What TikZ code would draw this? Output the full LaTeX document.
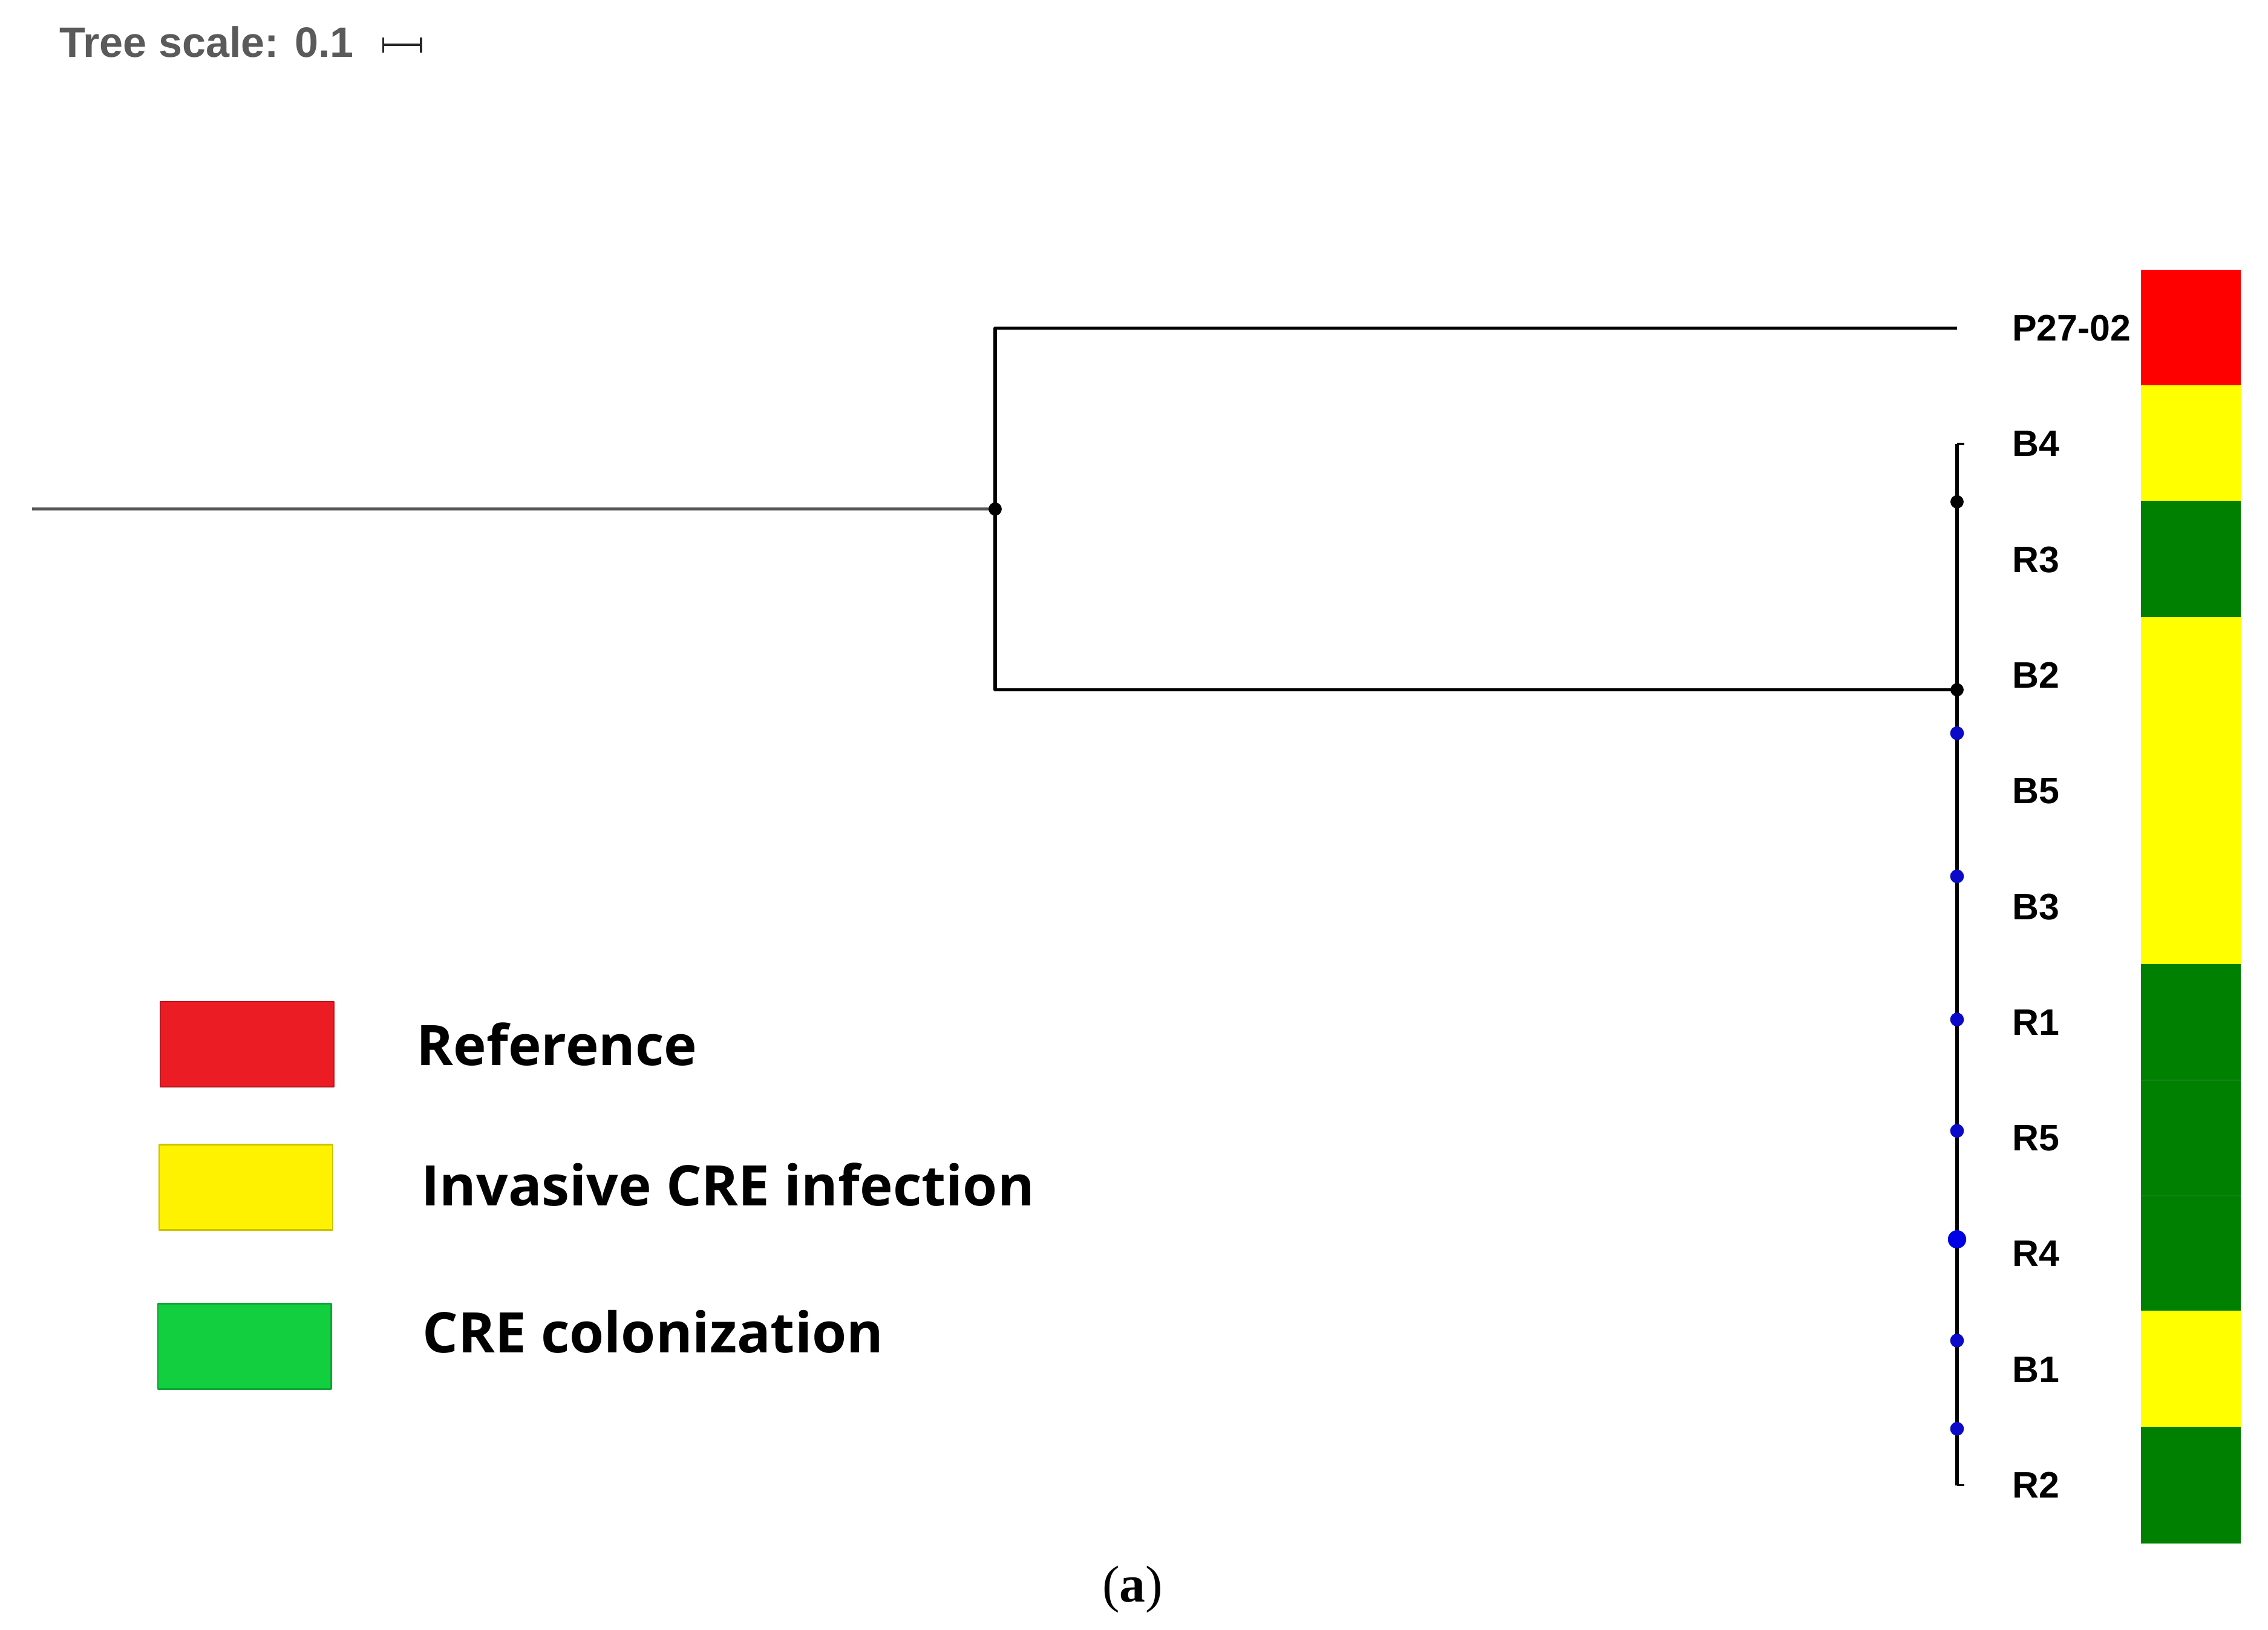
\documentclass[tikz,border=0pt]{standalone}
\usepackage{fontspec}
\setmainfont{Liberation Sans}
\newfontfamily\keyfont{Open Sans}
\newfontfamily\capfont{Liberation Serif}
\usetikzlibrary{positioning}
\definecolor{barred}{HTML}{FF0000}
\definecolor{baryellow}{HTML}{FFFF00}
\definecolor{bargreen}{HTML}{008000}
\definecolor{keyred}{HTML}{EC1C24}
\definecolor{keyyellow}{HTML}{FFF200}
\definecolor{keygreen}{HTML}{12CF40}
\definecolor{dotblue}{HTML}{0A0AC8}
\definecolor{rootgray}{HTML}{555555}
\definecolor{scalegray}{HTML}{5A5A5A}
\begin{document}
\begin{tikzpicture}[x=0.02cm, y=-0.02cm, line join=round, line width=1.3pt]
    \tikzset{leaf/.style={anchor=west, inner sep=0pt, font=\fontsize{14.5}{16}\selectfont\bfseries},
        keybox/.style={minimum width=2.4cm, minimum height=1.18cm, inner sep=0pt, draw=#1!80!black, line width=0.5pt, fill=#1},
        keytext/.style={anchor=west, inner sep=0pt, font=\keyfont\bfseries\fontsize{22}{24}\selectfont}}
    \useasboundingbox (0,0) rectangle (1568,1127);
    % scale
    \node[anchor=west, inner sep=0pt, text=scalegray, font=\fontsize{16.7}{18}\selectfont\bfseries] (scale) at (40,29) {Tree scale: 0.1};
    \coordinate (sbl) at (265,31);
    \coordinate (sbr) at (291,31);
    \draw[line width=0.9pt, black!85] (sbl) -- (sbr);
    \draw[line width=0.9pt, black!85] ([yshift=3pt]sbl) -- ([yshift=-3pt]sbl);
    \draw[line width=0.9pt, black!85] ([yshift=3pt]sbr) -- ([yshift=-3pt]sbr);
    % leaves
    \foreach \name [count=\i from 0] in {P27-02,B4,R3,B2,B5,B3,R1,R5,R4,B1,R2} {
        \node[leaf] (leaf\i) at (1390,{227+80*\i}) {\name};
        \coordinate (tip\i) at (1353,{227+80*\i});
    }
    % colour strip
    \foreach \c [count=\i from 0] in {barred,baryellow,bargreen,baryellow,baryellow,baryellow,bargreen,bargreen,bargreen,baryellow,bargreen}
        \fill[\c] (1480,{186.5+80*\i}) rectangle (1549,{267.5+80*\i});
    \draw[line width=0.5pt, green!45!black!90] (1480,747) -- (1549,747);
    \draw[line width=0.5pt, green!45!black!90] (1480,827) -- (1549,827);
    % tree
    \coordinate (root) at (22,352);
    \coordinate (n1) at (688,352);
    \coordinate (n2) at (1353,477);
    \draw[rootgray] (root) -- (n1);
    \draw (tip0) -| (n1);
    \draw (n2) -| (n1);
    \draw (tip1) -- (tip10);
    \draw[line width=0.8pt] (tip1) -- ++(5,0);
    \draw[line width=0.8pt] (tip10) -- ++(5,0);
    \fill (n1) circle (2.6pt);
    \fill (n2) circle (2.6pt);
    \fill (1353,347) circle (2.6pt);
    \foreach \y in {507,606,705,782,927,988}
        \fill[dotblue] (1353,\y) circle (2.7pt);
    \fill[blue!90!black] (1353,857) circle (3.6pt);
    % legend
    \node[keybox=keyred] (kred) at (171,722) {};
    \node[keybox=keyyellow] (kyellow) at (170,821) {};
    \node[keybox=keygreen] (kgreen) at (169,931) {};
    \node[keytext] (tred) at (287,722) {Reference};
    \node[keytext] (tyellow) at (290,819) {Invasive CRE infection};
    \node[keytext] (tgreen) at (291,921) {CRE colonization};
    % caption
    \node[font=\capfont\fontsize{20.4}{22}\selectfont] (cap) at (783,1099) {(\textbf{a})};
\end{tikzpicture}
\end{document}
